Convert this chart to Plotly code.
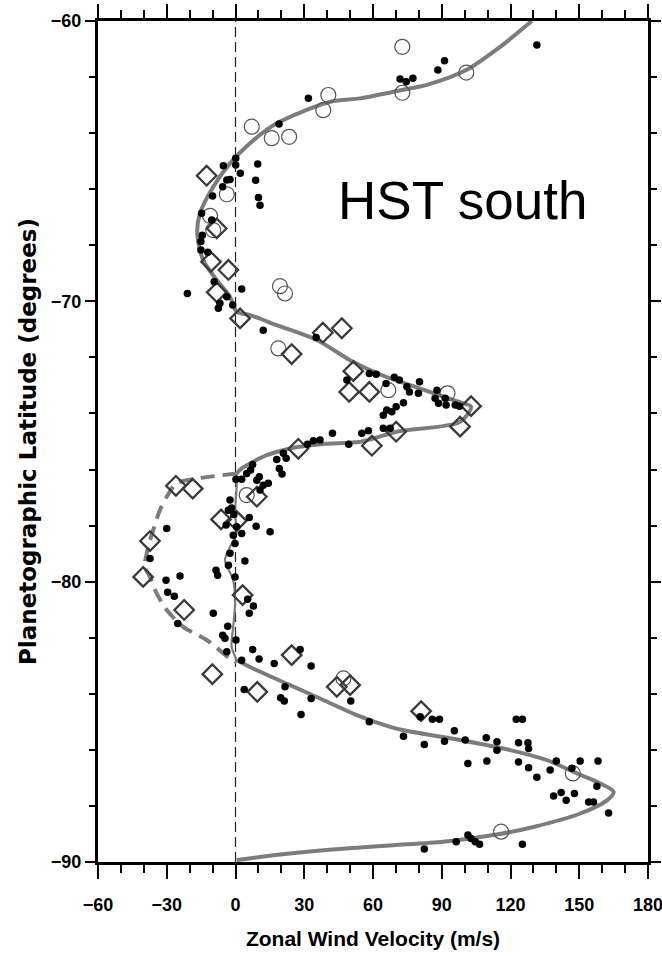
import plotly.graph_objects as go

# ---------------- data (zonal wind m/s, planetographic latitude deg) ----------------
dot_v = [31.8, 19.0, 0.1, 0.1, -5.3, 9.7, 2.1, 8.8, -2.4, -3.8, -5.6, 10.0, 10.7, -10.0, -14.8,
         -10.4, -14.5, -15.1, -15.1, -12.1, -9.3, -21.0, 2.7, -3.8, -7.5, -6.8, -1.2, 12.1, 35.2,
         48.6, 58.4, 61.4, 65.7, 64.5, 66.0, 64.5, 58.0, 55.1, 42.3, 36.9, 34.0, 31.4, 49.4, 20.9,
         18.0, 22.1, 19.1, 20.3, 7.5, 6.6, 4.9, 0.2, 2.7, 10.4, 9.3, 12.1, 14.3, 10.7, -2.4, -3.1,
         -1.7, -0.7, 6.0, 9.0, 15.1, -4.1, 0.5, 2.7, -1.0, -0.2, -2.4, 4.1, -3.1, -30.0, -37.3,
         -24.2, -30.3, -8.5, -7.8, -0.2, 69.3, 71.5, 74.8, 75.9, 80.3, 79.8, 87.9, 87.1, 88.6, 91.5,
         91.9, 95.9, 97.7, 73.3, 70.1, 68.2, 67.5, -29.6, -26.7, -25.2, -9.7, 5.3, 7.8, 6.0, -3.4,
         -5.6, -4.6, 0.2, -3.8, 2.7, 7.5, 10.3, 16.9, 28.2, 33.0, 21.6, 19.7, 21.3, 3.8, 28.6, 33.0,
         50.3, 58.4, 73.3, 80.6, 82.4, 85.9, 89.0, 91.2, 95.5, 100.2, 101.4, 109.4, 109.7, 114.1,
         114.1, 122.5, 125.2, 123.5, 123.5, 127.6, 127.9, 127.9, 131.5, 137.3, 140.0, 138.8, 142.1,
         144.3, 146.8, 147.9, 150.4, 157.7, 158.2, 154.1, 156.2, 162.8, 82.4, 96.3, 101.4, 102.8,
         104.6, 106.5, 125.2, 131.5, 91.2, 88.3, 71.8, 74.5, 77.4]
dot_lat = [-62.76, -63.67, -64.90, -65.14, -65.16, -65.10, -65.43, -65.68, -65.65, -65.67, -65.91,
           -66.30, -66.57, -66.24, -66.86, -67.10, -67.64, -67.87, -68.17, -68.25, -69.30, -69.72,
           -69.56, -69.84, -70.25, -70.07, -70.13, -71.03, -71.29, -72.81, -72.57, -72.60, -72.93,
           -74.06, -73.88, -74.53, -74.62, -74.71, -74.71, -74.95, -74.97, -75.10, -75.10, -75.42,
           -75.64, -75.60, -75.96, -76.16, -75.82, -76.02, -76.14, -76.35, -76.35, -76.26, -76.38,
           -76.56, -76.49, -76.73, -77.09, -77.45, -77.37, -77.60, -77.71, -78.02, -78.22, -77.98,
           -78.04, -78.28, -78.34, -78.64, -78.99, -79.26, -79.41, -78.10, -79.17, -79.80, -79.95,
           -79.59, -79.77, -79.83, -72.71, -72.81, -73.05, -73.23, -72.87, -73.28, -73.17, -73.46,
           -73.64, -73.46, -73.70, -73.70, -73.74, -73.62, -73.76, -73.94, -74.53, -80.38, -80.52,
           -81.49, -81.13, -80.63, -80.87, -81.13, -81.59, -81.91, -82.02, -82.08, -82.50, -82.80,
           -82.42, -82.76, -82.92, -82.42, -83.01, -83.75, -84.14, -84.26, -83.85, -84.74, -84.17,
           -84.26, -85.00, -85.51, -84.82, -85.81, -84.91, -84.91, -85.69, -85.32, -85.65, -86.49,
           -85.57, -86.40, -85.71, -86.01, -84.91, -84.91, -85.75, -86.43, -85.75, -85.95, -86.64,
           -86.98, -86.72, -86.40, -87.65, -87.52, -87.80, -86.66, -87.56, -86.40, -87.30, -86.40,
           -87.86, -87.86, -88.25, -89.54, -89.28, -89.04, -89.16, -89.28, -89.37, -89.37, -60.86,
           -61.42, -61.75, -62.07, -62.17, -62.04]

circle_v = [40.5, 38.3, 7.1, 15.8, 23.4, -3.8, -11.1, -9.7, 19.4, 21.6, 18.7, 66.7, 92.5, 4.9,
            47.1, 147.2, 115.9, 72.8, 72.8, 100.7]
circle_lat = [-62.64, -63.18, -63.77, -64.18, -64.13, -66.18, -66.95, -67.46, -69.46, -69.72,
              -71.68, -73.17, -73.28, -76.91, -83.45, -86.84, -88.92, -60.92, -62.56, -61.84]

diamond_v = [-12.6, -8.2, -10.7, -3.1, -8.2, 2.0, 38.1, 46.4, 24.5, 51.4, 49.6, 58.4, 59.5, 27.4,
             -26.0, -18.7, 9.3, -6.3, 0.5, -37.3, -40.3, -22.4, 3.1, -10.1, 9.5, 24.5, 44.2, 50.0,
             70.1, 98.0, 102.8, 81.0]
diamond_lat = [-65.52, -67.40, -68.59, -68.88, -69.68, -70.61, -71.12, -70.96, -71.88, -72.49,
               -73.23, -73.23, -75.15, -75.26, -76.58, -76.68, -76.97, -77.78, -77.83, -78.55,
               -79.83, -81.01, -80.48, -83.30, -83.93, -82.62, -83.75, -83.69, -74.65, -74.47,
               -73.74, -84.62]

# fitted profile (solid) - upper, middle (thin) and lower parts
fit_upper_v = [129.3, 115.5, 100.7, 83.5, 72.8, 54.4, 41.3, 18.0, 6.3, -2.4, -9.7, -15.5, -16.7,
               -14.1, -8.2, -2.4, 0.5, 6.3, 18.0, 35.5, 50.0, 63.1, 76.2, 90.7, 99.5, 102.8, 98.0,
               70.4, 54.4, 38.3, 23.8, 13.6, 7.8, 2.7, 0.5]
fit_upper_lat = [-60.0, -60.92, -61.75, -62.28, -62.46, -62.76, -62.88, -63.65, -64.36, -65.08,
                 -65.91, -66.86, -67.57, -68.53, -69.24, -69.84, -70.37, -70.49, -70.85, -71.38,
                 -72.10, -72.61, -72.99, -73.40, -73.64, -73.76, -74.30, -74.65, -75.01, -75.09,
                 -75.25, -75.49, -75.72, -75.96, -76.14]
fit_mid_v = [0.5, 0.5, -0.2, 0.5, -2.4, -4.6, -1.0, -0.2, -1.0, -1.7, 0.5]
fit_mid_lat = [-76.14, -76.62, -77.57, -78.28, -78.76, -79.23, -79.95, -80.78, -81.61, -82.32, -82.80]
fit_lower_v = [0.5, 9.3, 23.8, 38.3, 52.9, 67.5, 73.3, 98.0, 119.9, 135.9, 149.0, 159.2, 165.0,
               162.1, 150.4, 130.0, 112.6, 90.7, 68.9, 54.4, 38.3, 16.5, 0.5]
fit_lower_lat = [-82.80, -83.16, -83.69, -84.22, -84.76, -85.18, -85.30, -85.65, -86.01, -86.37,
                 -86.84, -87.20, -87.50, -87.80, -88.27, -88.75, -89.04, -89.28, -89.40, -89.48,
                 -89.58, -89.76, -89.93]
# alternative (dashed) branch
dash_v = [0.5, -15.5, -25.7, -30.0, -33.0, -35.9, -38.1, -39.5, -37.3, -34.4, -30.0, -22.8, -12.6,
          -2.4, 0.5]
dash_lat = [-76.14, -76.31, -76.49, -76.97, -77.45, -78.16, -78.76, -79.47, -79.83, -80.42, -81.01,
            -81.61, -82.08, -82.74, -82.87]

x_range = [-60, 180]
y_range = [-90, -60]

SANS = "Liberation Sans, Arial, sans-serif"
CURVE = "#7c7c7c"

fig = go.Figure()

fig.add_vline(x=0, line=dict(color="#222222", width=1.2, dash="10px,5px"), layer="below")

fig.add_trace(go.Scatter(x=dash_v, y=dash_lat, mode="lines",
                         line=dict(color=CURVE, width=4, dash="14px,8px", shape="spline", smoothing=0.8),
                         hoverinfo="skip", showlegend=False))
fig.add_trace(go.Scatter(x=fit_upper_v, y=fit_upper_lat, mode="lines",
                         line=dict(color=CURVE, width=4, shape="spline", smoothing=0.8),
                         hoverinfo="skip", showlegend=False))
fig.add_trace(go.Scatter(x=fit_mid_v, y=fit_mid_lat, mode="lines",
                         line=dict(color=CURVE, width=2.2, shape="spline", smoothing=0.8),
                         hoverinfo="skip", showlegend=False))
fig.add_trace(go.Scatter(x=fit_lower_v, y=fit_lower_lat, mode="lines",
                         line=dict(color=CURVE, width=4, shape="spline", smoothing=0.8),
                         hoverinfo="skip", showlegend=False))

fig.add_trace(go.Scatter(x=circle_v, y=circle_lat, mode="markers",
                         marker=dict(symbol="circle-open", size=15, color="#555555",
                                     line=dict(width=1.2, color="#555555")),
                         showlegend=False))
fig.add_trace(go.Scatter(x=diamond_v, y=diamond_lat, mode="markers",
                         marker=dict(symbol="diamond-open", size=15, color="#3a3a3a",
                                     line=dict(width=2.3, color="#3a3a3a")),
                         showlegend=False))
fig.add_trace(go.Scatter(x=dot_v, y=dot_lat, mode="markers",
                         marker=dict(symbol="circle", size=7.5, color="black"),
                         showlegend=False))

fig.add_annotation(x=98.9, y=-66.42, xref="x", yref="y", text="HST south", showarrow=False,
                   xanchor="center", yanchor="middle",
                   font=dict(family=SANS, size=53, color="black"))

fig.update_layout(
    width=662, height=956,
    margin=dict(l=98, r=14, t=21, b=94, autoexpand=False),
    paper_bgcolor="white", plot_bgcolor="white",
    xaxis=dict(
        range=x_range, tick0=-60, dtick=30, ticks="outside", ticklen=14, tickwidth=2,
        tickcolor="black", showline=True, linewidth=3, linecolor="black", mirror="allticks",
        showgrid=False, zeroline=False, ticklabelstandoff=10, automargin=False,
        ticklabeloverflow="allow",
        minor=dict(tick0=-60, dtick=10, ticks="outside", ticklen=8, tickwidth=2,
                   tickcolor="black", showgrid=False),
        tickfont=dict(family=SANS, size=18, color="black", weight="bold"),
        title=dict(text="Zonal Wind Velocity (m/s)", standoff=18,
                   font=dict(family=SANS, size=21, color="black", weight="bold")),
    ),
    yaxis=dict(
        range=y_range, tick0=-90, dtick=10, ticks="outside", ticklen=10, tickwidth=2,
        tickcolor="black", showline=True, linewidth=3, linecolor="black", mirror="allticks",
        showgrid=False, zeroline=False, ticklabelstandoff=0, automargin=False,
        ticklabeloverflow="allow",
        minor=dict(tick0=-90, dtick=2, ticks="outside", ticklen=6, tickwidth=2,
                   tickcolor="black", showgrid=False),
        tickfont=dict(family=SANS, size=18, color="black", weight="bold"),
        title=dict(text="Planetographic Latitude (degrees)", standoff=8,
                   font=dict(family="DejaVu Sans, sans-serif", size=23, color="black", weight="bold")),
    ),
)

fig.write_html("out.html")
